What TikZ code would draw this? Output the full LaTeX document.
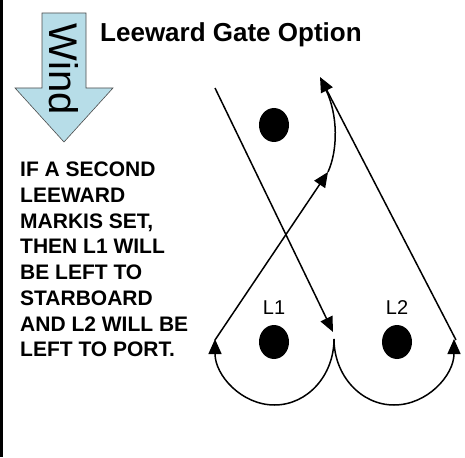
\documentclass[tikz,border=0pt]{standalone}
\usepackage{fontspec}
\setmainfont{Liberation Sans}
\usepackage{tikz}
\usetikzlibrary{%
  positioning
 ,arrows.meta
 ,shapes
}
\definecolor{windblue}{RGB}{183,221,232}
\tikzstyle{leg}=[line width=1.5pt,-{Triangle[length=15pt,width=13pt]}]
\tikzstyle{mk}=[ellipse,fill=black,inner sep=0pt,minimum width=30pt,minimum height=34pt]
\tikzstyle{lbl}=[inner sep=0pt,font=\fontsize{20}{24}\selectfont]

\begin{document}
\begin{tikzpicture}[x=1pt,y=-1pt]
      \useasboundingbox (0,0) rectangle (465,457);
      \draw[line width=2.5pt] (1.25,0) -- (1.25,457);
      \draw[fill=windblue,draw=black!70,line width=0.6pt]
        (42,13) -- (86,13) -- (86,88) -- (113,88) -- (64,142) -- (15,88) -- (42,88) -- cycle;
      \node[rotate=-90,inner sep=0pt,font=\fontsize{40}{40}\selectfont] (wind) at (63.5,69) {Wind};
      \node[anchor=base west,inner sep=0pt,font=\bfseries\fontsize{26}{30}\selectfont] (title) at (100,41.5) {Leeward Gate Option};
      \node[anchor=north west,inner sep=0pt,align=left,font=\bfseries\fontsize{21}{25.7}\selectfont] (note) at (20,162)
        {IF A SECOND\\LEEWARD\\MARKIS SET,\\THEN L1 WILL\\BE LEFT TO\\STARBOARD\\AND L2 WILL BE\\LEFT TO PORT.};
      \node[mk] (m_0) at (274,125) {};
      \node[mk] (m_1) at (274,342) {};
      \node[mk,on grid,right=123pt of m_1] (m_2) {};
      \node[lbl,above=10pt of m_1] (l_1) {L1};
      \node[lbl,above=10pt of m_2] (l_2) {L2};
      \coordinate (a_0) at (215,88);
      \coordinate (a_1) at (333,332);
      \coordinate (g) at (334,339);
      \coordinate (b_0) at (456,340);
      \coordinate (b_1) at (320,77);
      \coordinate (c_0) at (215,340);
      \coordinate (c_1) at (328,172);
      \coordinate (d_1) at (326,90);
      \draw[leg] (a_0) -- (a_1);
      \draw[leg] (g) arc[start angle=0,end angle=180,x radius=59.5,y radius=66];
      \draw[leg] (g) arc[start angle=180,end angle=0,x radius=60,y radius=66];
      \draw[leg] (b_0) -- (b_1);
      \draw[leg] (c_0) -- (c_1);
      \draw[line width=1.5pt] (c_1) .. controls (338,150) and (338,115) .. (d_1);
    \end{tikzpicture}
\end{document}
